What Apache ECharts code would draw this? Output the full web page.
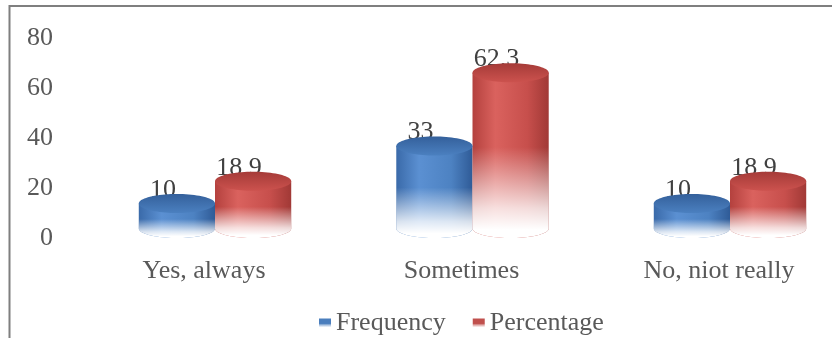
<!DOCTYPE html>
<html>
<head>
<meta charset="utf-8">
<script src="https://cdn.jsdelivr.net/npm/echarts@6/dist/echarts.min.js"></script>
<style>
  html, body { margin: 0; padding: 0; background: #ffffff; }
  #chart { width: 832px; height: 338px; }
</style>
</head>
<body>
<div id="chart"></div>
<script>
// Survey answers and their counts / shares
var categories = ['Yes, always', 'Sometimes', 'No, niot really'];
var frequency = [10, 33, 10];
var percentage = [18.9, 62.3, 18.9];
var seriesNames = ['Frequency', 'Percentage'];
var yTicks = [0, 20, 40, 60, 80];

var FONT = '"Liberation Serif", "Times New Roman", serif';
var G = echarts.graphic;

// Colour sets for the cylinders: side shading, top cap, legend swatch
var palettes = [
  {
    side: ['#3a6aa9', '#5b90d2', '#4d82c2', '#2f5b97'],
    capTop: '#34609b', capBottom: '#4b80c0',
    swatch: '#4a7ebd'
  },
  {
    side: ['#b4413e', '#da625e', '#c74f4c', '#a13936'],
    capTop: '#a53b38', capBottom: '#cc524e',
    swatch: '#c0504d'
  }
];

function ellipsePoints(cx, cy, rx, ry, a0, a1, n) {
  var pts = [];
  for (var k = 0; k <= n; k++) {
    var t = a0 + (a1 - a0) * k / n;
    pts.push([cx + rx * Math.cos(t), cy + ry * Math.sin(t)]);
  }
  return pts;
}

// Draws one cylinder: a side body fading to white toward the base, a darker cap and a value label
function makeRenderer(seriesIdx) {
  var pal = palettes[seriesIdx];
  return function (params, api) {
    var cat = api.value(0);
    var val = api.value(1);
    var top = api.coord([cat, val]);
    var base = api.coord([cat, 0]);
    var band = api.size([1, 0])[0];
    var w = band * 0.296;
    var rx = w / 2;
    var ry = 9.5;
    var cx = top[0] + (seriesIdx === 0 ? -rx : rx);
    var capCy = top[1] - ry;
    var baseCy = base[1] - ry;

    var bodyPts = [[cx - rx, capCy]].concat(ellipsePoints(cx, baseCy, rx, ry, Math.PI, 0, 40));
    bodyPts.push([cx + rx, capCy]);

    var sideFill = new G.LinearGradient(0, 0, 1, 0, [
      { offset: 0, color: pal.side[0] },
      { offset: 0.3, color: pal.side[1] },
      { offset: 0.72, color: pal.side[2] },
      { offset: 1, color: pal.side[3] }
    ]);
    var fadeFill = new G.LinearGradient(0, 0, 0, 1, [
      { offset: 0, color: 'rgba(255,255,255,0)' },
      { offset: 0.45, color: 'rgba(255,255,255,0)' },
      { offset: 0.82, color: 'rgba(255,255,255,0.8)' },
      { offset: 0.95, color: 'rgba(255,255,255,1)' },
      { offset: 1, color: 'rgba(255,255,255,1)' }
    ]);
    var capFill = new G.LinearGradient(0, 0, 0, 1, [
      { offset: 0, color: pal.capTop },
      { offset: 1, color: pal.capBottom }
    ]);
    var capPts = ellipsePoints(cx, capCy, rx, ry, 0, Math.PI * 2, 80);

    return {
      type: 'group',
      children: [
        {
          type: 'text',
          z2: 1,
          style: {
            text: String(val),
            x: cx - 14,
            y: capCy - ry + 9,
            align: 'center',
            verticalAlign: 'bottom',
            font: '26px ' + FONT,
            fill: '#404040'
          }
        },
        { type: 'polygon', z2: 2, shape: { points: bodyPts }, style: { fill: sideFill } },
        { type: 'polygon', z2: 3, shape: { points: bodyPts }, style: { fill: fadeFill } },
        { type: 'polygon', z2: 4, shape: { points: capPts }, style: { fill: capFill } }
      ]
    };
  };
}

function swatch(color) {
  return new G.LinearGradient(0, 0, 0, 1, [
    { offset: 0, color: color },
    { offset: 0.55, color: color },
    { offset: 1, color: 'rgba(255,255,255,0.6)' }
  ]);
}

var chart = echarts.init(document.getElementById('chart'), null, { renderer: 'canvas' });

// Category centres sit on the grid edges (boundaryGap off); the value axis is pushed out to the left
chart.setOption({
  animation: false,
  backgroundColor: '#ffffff',
  graphic: [
    {
      type: 'polyline',
      shape: { points: [[9.5, 338], [9.5, 6], [832, 6]] },
      style: { stroke: '#7f7f7f', lineWidth: 2, fill: null }
    }
  ],
  grid: { left: 215, right: 102, top: 38, height: 200 },
  xAxis: {
    type: 'category',
    data: categories,
    boundaryGap: false,
    axisLine: { show: false },
    axisTick: { show: false },
    axisLabel: {
      margin: 20,
      fontFamily: FONT,
      fontSize: 26,
      color: '#595959',
      padding: [0, 22, 0, 0]
    }
  },
  yAxis: {
    type: 'value',
    min: yTicks[0],
    max: yTicks[yTicks.length - 1],
    interval: yTicks[1] - yTicks[0],
    offset: 129,
    axisLine: { show: false },
    axisTick: { show: false },
    splitLine: { show: false },
    axisLabel: {
      margin: 33,
      fontFamily: FONT,
      fontSize: 26,
      color: '#595959'
    }
  },
  legend: {
    data: seriesNames,
    left: 314,
    top: 305,
    itemWidth: 12,
    itemHeight: 9,
    itemGap: 27,
    icon: 'rect',
    textStyle: { fontFamily: FONT, fontSize: 26, color: '#595959' }
  },
  series: [
    {
      name: seriesNames[0],
      type: 'custom',
      renderItem: makeRenderer(0),
      encode: { x: 0, y: 1 },
      itemStyle: { color: swatch(palettes[0].swatch) },
      data: frequency.map(function (v, i) { return [i, v]; })
    },
    {
      name: seriesNames[1],
      type: 'custom',
      renderItem: makeRenderer(1),
      encode: { x: 0, y: 1 },
      itemStyle: { color: swatch(palettes[1].swatch) },
      data: percentage.map(function (v, i) { return [i, v]; })
    }
  ]
});
</script>
</body>
</html>
